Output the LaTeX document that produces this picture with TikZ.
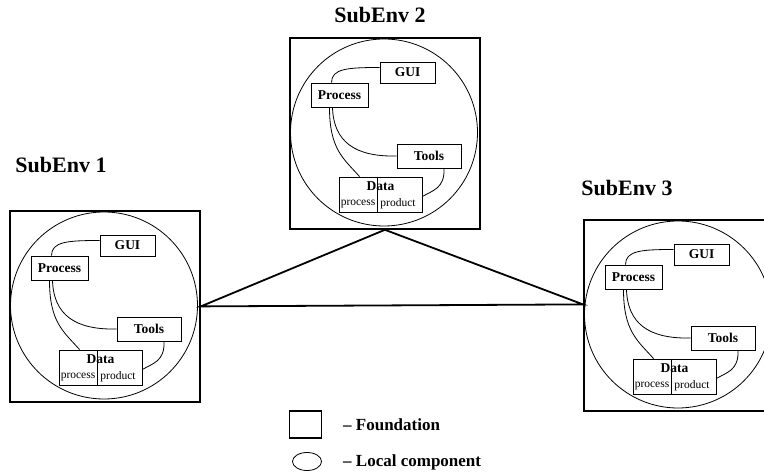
\documentclass[tikz,border=0pt]{standalone}
\usepackage{fontspec}
\setmainfont{Liberation Serif}
\usetikzlibrary{calc,shapes.geometric}

\tikzset{
  foundation/.style={draw, line width=1.8pt, minimum width=190pt, minimum height=191pt,
                     inner sep=0pt, anchor=north west},
  localcomp/.style={draw, circle, line width=0.8pt, minimum size=187pt, inner sep=0pt},
  comp/.style={draw, line width=0.8pt, inner sep=0pt,
               font=\bfseries\fontsize{13.5}{15}\selectfont},
  part/.style={inner sep=0pt, font=\fontsize{11.5}{13}\selectfont},
  wire/.style={line width=0.8pt},
  link/.style={line width=1.8pt, line join=miter},
  title/.style={font=\bfseries\fontsize{22}{25}\selectfont},
  legendtext/.style={anchor=west, inner sep=0pt, font=\bfseries\fontsize{17}{20}\selectfont},
}

% One sub-environment: a foundation box holding a local component
% with its GUI, Process, Tools and Data parts.
\newcommand\subenvironment[3]{%
  \begin{scope}[shift={(#2,#3)}]
    \node[foundation] (#1box) at (0,0) {};
    \node[localcomp] (#1circ) at (95,95.5) {};
    \node[comp, minimum width=55pt, minimum height=21pt] (#1gui) at (118.5,35.5) {GUI};
    \node[comp, minimum width=57pt, minimum height=24pt] (#1proc) at (50.5,58) {Process};
    \node[comp, minimum width=64pt, minimum height=24pt] (#1tools) at (140,119) {Tools};
    \node[draw, line width=0.8pt, minimum width=83pt, minimum height=35pt, inner sep=0pt]
      (#1data) at (91.5,157.5) {};
    \draw[line width=0.8pt] ($(#1data.north west)+(39,0)$) -- ($(#1data.south west)+(39,0)$);
    \node[comp, draw=none] (#1datalabel) at (91.5,149.5) {Data};
    \node[part] (#1dproc) at (69,167) {process};
    \node[part] (#1dprod) at (109,167) {product};
    % connections between the parts
    \draw[wire] ($(#1proc.north)+(-8,0)$) .. controls +(0,-14) and +(-32,0) .. ($(#1gui.west)+(0,-5)$);
    \draw[wire] ($(#1proc.south)+(-10,0)$) .. controls +(0,42) and +(-16,-18) .. ($(#1data.north west)+(21,0)$);
    \draw[wire] ($(#1proc.south)+(-7,0)$) .. controls +(1,34) and +(-42,1) .. (#1tools.west);
    \draw[wire] ($(#1tools.south)+(15,0)$) .. controls +(1,20) and +(10,-6) .. ($(#1data.east)+(0,2)$);
  \end{scope}}

\begin{document}
\begin{tikzpicture}[x=1pt,y=-1pt]
  \useasboundingbox (0,0) rectangle (764,476);

  \subenvironment{a}{9}{210}
  \subenvironment{b}{289}{37}
  \subenvironment{c}{583}{219}

  \node[title] (ta) at (61,165) {SubEnv 1};
  \node[title] (tb) at (380,15) {SubEnv 2};
  \node[title] (tc) at (627,188) {SubEnv 3};

  % links between the foundations
  \coordinate (cin) at ($(cbox.west)+(0,-11)$);
  \draw[link] (bbox.south) -- (abox.east) -- (cin) -- cycle;

  % legend
  \node[draw, line width=1.4pt, minimum width=32pt, minimum height=27pt, inner sep=0pt]
    (legbox) at (305.5,424.5) {};
  \node[draw, ellipse, line width=0.8pt, minimum width=29pt, minimum height=18pt, inner sep=0pt]
    (legcirc) at (307,461.5) {};
  \node[legendtext] (legfound) at (343,425) {– Foundation};
  \node[legendtext] (leglocal) at (343,462) {– Local component};
\end{tikzpicture}
\end{document}
